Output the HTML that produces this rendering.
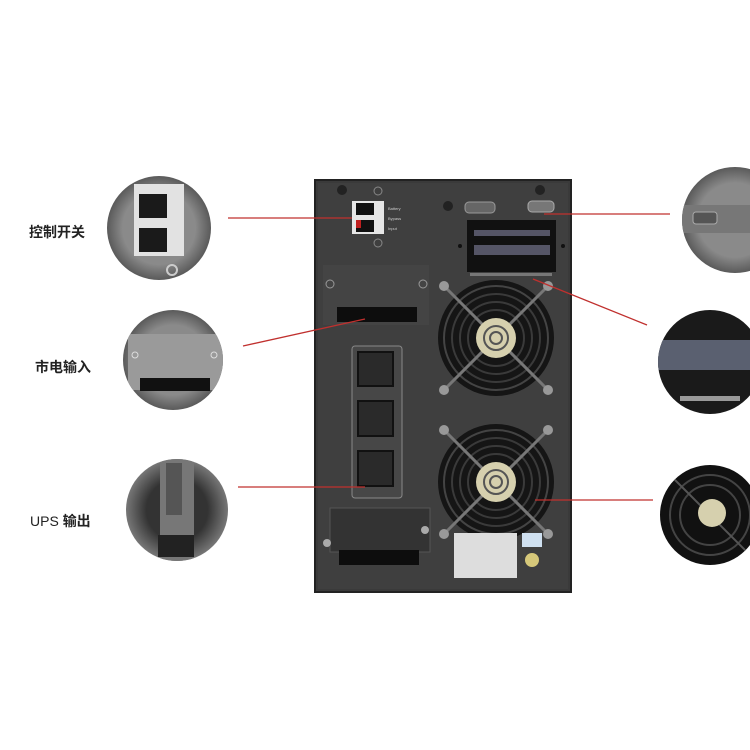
<!DOCTYPE html>
<html><head><meta charset="utf-8"><style>
html,body{margin:0;padding:0;background:#fff;}
svg{display:block}
text{font-family:"Liberation Sans","Noto Sans CJK SC",sans-serif;}
</style></head><body>
<svg width="750" height="750" viewBox="0 0 750 750" xmlns="http://www.w3.org/2000/svg">
<defs>
<radialGradient id="cg" cx="50%" cy="50%" r="50%">
<stop offset="0.7" stop-color="#8a8a8a"/><stop offset="1" stop-color="#5a5a5a"/>
</radialGradient>
<radialGradient id="cd" cx="50%" cy="50%" r="50%">
<stop offset="0.6" stop-color="#333"/><stop offset="1" stop-color="#777"/>
</radialGradient>
<clipPath id="c1"><circle cx="159" cy="228" r="52"/></clipPath>
<clipPath id="c2"><circle cx="173" cy="360" r="50"/></clipPath>
<clipPath id="c3"><circle cx="177" cy="510" r="51"/></clipPath>
<clipPath id="c4"><circle cx="735" cy="220" r="53"/></clipPath>
<clipPath id="c5"><circle cx="710" cy="362" r="52"/></clipPath>
<clipPath id="c6"><circle cx="710" cy="515" r="50"/></clipPath>
<g id="fan">
<circle r="58" fill="#151515"/>
<circle r="52" fill="none" stroke="#444" stroke-width="2"/>
<circle r="44" fill="none" stroke="#3a3a3a" stroke-width="2"/>
<circle r="36" fill="none" stroke="#3a3a3a" stroke-width="2"/>
<circle r="28" fill="none" stroke="#3a3a3a" stroke-width="2"/>
<line x1="-55" y1="-55" x2="55" y2="55" stroke="#777" stroke-width="3"/>
<line x1="55" y1="-55" x2="-55" y2="55" stroke="#777" stroke-width="3"/>
<circle r="20" fill="#d6d0ae"/>
<circle r="12" fill="none" stroke="#555" stroke-width="2"/>
<circle r="6" fill="none" stroke="#555" stroke-width="2"/>
<circle cx="-52" cy="-52" r="5" fill="#999"/><circle cx="52" cy="-52" r="5" fill="#999"/>
<circle cx="-52" cy="52" r="5" fill="#999"/><circle cx="52" cy="52" r="5" fill="#999"/>
</g>
</defs>

<rect x="315" y="180" width="256" height="412" fill="#3a3a3a" stroke="#222" stroke-width="2"/>
<rect x="318" y="183" width="250" height="406" fill="#3f3f3f"/>
<circle cx="342" cy="190" r="5" fill="#222"/><circle cx="540" cy="190" r="5" fill="#222"/>
<circle cx="448" cy="206" r="5" fill="#222"/>
<circle cx="378" cy="191" r="4" fill="none" stroke="#888"/><circle cx="378" cy="243" r="4" fill="none" stroke="#888"/>
<rect x="352" y="201" width="32" height="33" fill="#e6e6e6"/>
<rect x="356" y="203" width="18" height="12" fill="#111"/>
<rect x="356" y="220" width="18" height="12" fill="#111"/>
<rect x="356" y="220" width="5" height="8" fill="#c02020"/>
<text x="388" y="210" font-size="4" fill="#ccc">Battery</text>
<text x="388" y="220" font-size="4" fill="#ccc">Bypass</text>
<text x="388" y="230" font-size="4" fill="#ccc">Input</text>
<rect x="465" y="202" width="30" height="11" rx="4" fill="#666" stroke="#999"/>
<rect x="528" y="201" width="26" height="11" rx="4" fill="#777" stroke="#aaa"/>
<rect x="467" y="220" width="89" height="52" fill="#111"/>
<rect x="474" y="230" width="76" height="6" fill="#556"/>
<rect x="474" y="245" width="76" height="10" fill="#556"/>
<rect x="470" y="273" width="82" height="3" fill="#777"/>
<circle cx="460" cy="246" r="2" fill="#111"/><circle cx="563" cy="246" r="2" fill="#111"/>
<rect x="323" y="265" width="106" height="60" fill="#444"/>
<circle cx="330" cy="284" r="4" fill="none" stroke="#999"/><circle cx="423" cy="284" r="4" fill="none" stroke="#999"/>
<rect x="337" y="307" width="80" height="15" fill="#0d0d0d"/>
<rect x="352" y="346" width="50" height="152" rx="3" fill="#474747" stroke="#888"/>
<rect x="358" y="352" width="35" height="34" fill="#2a2a2a" stroke="#111" stroke-width="2"/>
<rect x="358" y="401" width="35" height="35" fill="#2a2a2a" stroke="#111" stroke-width="2"/>
<rect x="358" y="451" width="35" height="35" fill="#2a2a2a" stroke="#111" stroke-width="2"/>
<use href="#fan" x="496" y="338"/>
<use href="#fan" x="496" y="482"/>
<rect x="330" y="508" width="100" height="44" fill="#333" stroke="#555"/>
<rect x="339" y="550" width="80" height="15" fill="#0d0d0d"/>
<circle cx="327" cy="543" r="4" fill="#aaa"/><circle cx="425" cy="530" r="4" fill="#aaa"/>
<rect x="454" y="533" width="63" height="45" fill="#ddd"/>
<rect x="522" y="533" width="20" height="14" fill="#cfe0f0"/>
<circle cx="532" cy="560" r="7" fill="#d6c87a"/>

<g stroke="#c0302e" stroke-width="1.3" fill="none">
<line x1="228" y1="218" x2="352" y2="218"/>
<line x1="243" y1="346" x2="365" y2="319"/>
<line x1="238" y1="487" x2="365" y2="487"/>
<line x1="544" y1="214" x2="670" y2="214"/>
<line x1="533" y1="279" x2="647" y2="325"/>
<line x1="535" y1="500" x2="653" y2="500"/>
</g>

<circle cx="159" cy="228" r="52" fill="url(#cg)"/>
<g clip-path="url(#c1)">
<rect x="134" y="184" width="50" height="72" fill="#e2e2e2"/>
<rect x="139" y="194" width="28" height="24" fill="#1a1a1a"/>
<rect x="139" y="228" width="28" height="24" fill="#1a1a1a"/>
<circle cx="172" cy="270" r="5" fill="none" stroke="#ccc" stroke-width="2"/>
</g>

<circle cx="173" cy="360" r="50" fill="url(#cg)"/>
<g clip-path="url(#c2)">
<rect x="128" y="334" width="96" height="56" fill="#9a9a9a"/>
<rect x="140" y="378" width="70" height="13" fill="#111"/>
<circle cx="135" cy="355" r="3" fill="none" stroke="#ddd"/><circle cx="214" cy="355" r="3" fill="none" stroke="#ddd"/>
</g>

<circle cx="177" cy="510" r="51" fill="url(#cd)"/>
<g clip-path="url(#c3)">
<rect x="160" y="458" width="34" height="110" fill="#777"/>
<rect x="166" y="463" width="16" height="52" fill="#555"/>
<rect x="158" y="535" width="36" height="22" fill="#222"/>
</g>

<circle cx="735" cy="220" r="53" fill="url(#cg)"/>
<g clip-path="url(#c4)">
<rect x="682" y="205" width="70" height="28" fill="#777"/>
<rect x="693" y="212" width="24" height="12" rx="3" fill="#555" stroke="#aaa"/>
</g>

<circle cx="710" cy="362" r="52" fill="#1a1a1a"/>
<g clip-path="url(#c5)">
<rect x="658" y="340" width="95" height="30" fill="#5a6070"/>
<rect x="680" y="396" width="60" height="5" fill="#999"/>
</g>

<circle cx="710" cy="515" r="50" fill="#111"/>
<g clip-path="url(#c6)">
<circle cx="710" cy="515" r="40" fill="none" stroke="#444" stroke-width="2"/>
<circle cx="710" cy="515" r="30" fill="none" stroke="#444" stroke-width="2"/>
<line x1="665" y1="470" x2="755" y2="560" stroke="#555" stroke-width="2"/>
<circle cx="712" cy="513" r="14" fill="#d6d0ae"/>
</g>

<text x="29" y="237" font-size="14" font-weight="bold" fill="#222">控制开关</text>
<text x="35" y="372" font-size="14" font-weight="bold" fill="#222">市电输入</text>
<text x="30" y="526" font-size="14" fill="#222">UPS <tspan font-weight="bold">输出</tspan></text>
</svg>
</body></html>
